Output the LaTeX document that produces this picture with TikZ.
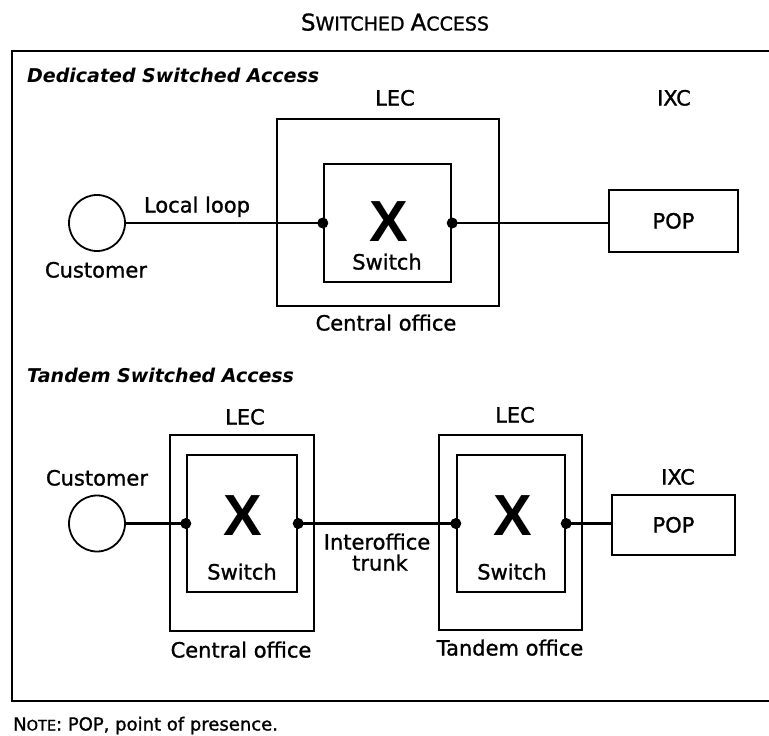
\documentclass[tikz,border=0pt]{standalone}
\usepackage{fontspec}
\setmainfont{DejaVu Sans}
\newfontfamily\lblfont[FakeBold=1.2]{DejaVu Sans}
\newfontfamily\xfont{Liberation Sans}
\begin{document}
\begin{tikzpicture}[x=1pt,y=-1pt,
  lbl/.style={font=\lblfont\fontsize{21}{21}\selectfont, inner sep=0pt, text height=15pt, text depth=0pt},
  head/.style={font=\fontsize{19}{19}\selectfont\bfseries\itshape, inner sep=0pt, anchor=west, text height=14pt, text depth=0pt},
  bigx/.style={font=\fontsize{58}{58}\selectfont\xfont\bfseries, inner sep=0pt, text height=41pt, text depth=0pt},
  officebox/.style={draw, line width=2.4pt, inner sep=0pt},
  switchbox/.style={draw, line width=2.4pt, inner sep=0pt},
  popbox/.style={draw, line width=2.4pt, inner sep=0pt},
  custnode/.style={draw, circle, line width=1.8pt, minimum size=56pt, inner sep=0pt},
  wire/.style={line width=2.4pt},
  jdot/.style={circle, fill, inner sep=0pt, minimum size=11pt}]
\useasboundingbox (0,0) rectangle (769,736);
\fill[white] (0,0) rectangle (769,736);

% title and outer frame
\node[inner sep=0pt, text height=17pt, text depth=0pt, font=\lblfont] (title) at (395,22)
  {{\fontsize{23}{23}\selectfont S}{\fontsize{19}{19}\selectfont WITCHED }{\fontsize{23}{23}\selectfont A}{\fontsize{19}{19}\selectfont CCESS}};
\draw[line width=2.8pt] (780,51) -- (12,51) -- (12,701) -- (780,701);

% ---- dedicated switched access ----
\node[head] (h1) at (27,75) {Dedicated Switched Access};
\node[officebox, minimum width=222pt, minimum height=187pt] (co1) at (388,212.5) {};
\node[switchbox, minimum width=127pt, minimum height=118pt] (sw1) at (387.5,223) {};
\node[bigx] (x1) at (389,221) {X};
\node[lbl] (s1) at (387,262) {Switch};
\node[popbox, minimum width=129pt, minimum height=62pt] (pop1) at (673.5,221) {};
\node[lbl] (p1) at (pop1.center) {POP};
\node[custnode] (c1) at (97,223) {};
\node[lbl] (lec1) at (395,98) {LEC};
\node[lbl] (ixc1) at (674,98) {IXC};
\node[lbl] (cu1) at (96,270) {Customer};
\node[lbl] (ll) at (197,205) {Local loop};
\node[lbl] (cent1) at (386,323) {Central office};

\draw[wire] (c1.east) -- (sw1.west);
\draw[wire] (sw1.east) -- (sw1.east -| pop1.west);
\node[jdot] (d1) at (sw1.west) {};
\node[jdot] (d2) at (sw1.east) {};

% ---- tandem switched access ----
\node[head] (h2) at (27,375) {Tandem Switched Access};
\node[officebox, minimum width=144pt, minimum height=196pt] (co2) at (242,533) {};
\node[switchbox, minimum width=110pt, minimum height=137pt] (sw2) at (242,523.5) {};
\node[officebox, minimum width=143pt, minimum height=195pt] (to2) at (510.5,532.5) {};
\node[switchbox, minimum width=108pt, minimum height=137pt] (sw3) at (511,523.5) {};
\node[bigx] (x2) at (243,515) {X};
\node[lbl] (s2) at (242,572) {Switch};
\node[bigx] (x3) at (513,515) {X};
\node[lbl] (s3) at (512,572) {Switch};
\node[popbox, minimum width=123pt, minimum height=60pt] (pop2) at (673.5,525) {};
\node[lbl] (p2) at (pop2.center) {POP};
\node[custnode] (c2) at (97,523.5) {};
\node[lbl] (lec2) at (245,417) {LEC};
\node[lbl] (lec3) at (515,415) {LEC};
\node[lbl] (cu2) at (97,478) {Customer};
\node[lbl] (ixc2) at (678,477) {IXC};
\node[lbl] (io) at (377,542) {Interoffice};
\node[lbl] (tr) at (380,563) {trunk};
\node[lbl] (cent2) at (241,650) {Central office};
\node[lbl] (tand) at (510,648) {Tandem office};

\draw[wire] (c2.east) -- (sw2.west);
\draw[wire] (sw2.east) -- (sw3.west);
\draw[wire] (sw3.east) -- (sw3.east -| pop2.west);
\node[jdot] (d3) at (sw2.west) {};
\node[jdot] (d4) at (sw2.east) {};
\node[jdot] (d5) at (sw3.west) {};
\node[jdot] (d6) at (sw3.east) {};

% footnote
\node[inner sep=0pt, anchor=west, text height=13pt, text depth=0pt, font=\lblfont] (note) at (13,724)
  {{\fontsize{18}{18}\selectfont N}{\fontsize{14.5}{14.5}\selectfont OTE}\fontsize{18}{18}\selectfont: POP, point of presence.};
\end{tikzpicture}
\end{document}
